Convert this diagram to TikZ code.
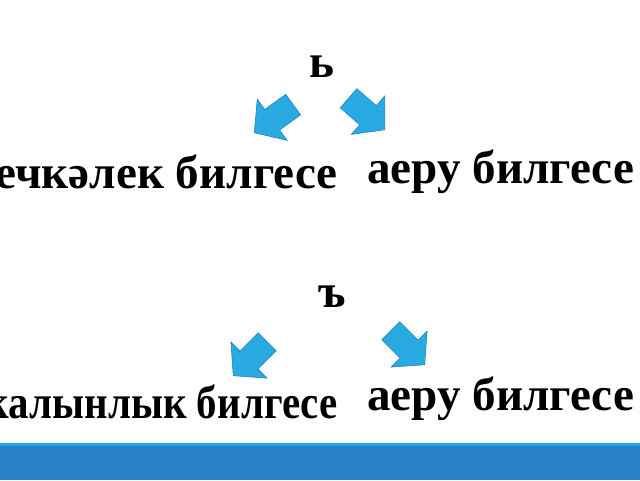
\documentclass[tikz,border=0pt]{standalone}
\usepackage{fontspec}
\setmainfont{Liberation Serif}
\usetikzlibrary{shapes.arrows,positioning}
\definecolor{arrowfill}{RGB}{41,171,226}
\definecolor{arrowline}{RGB}{31,128,186}
\definecolor{barblue}{RGB}{41,128,197}
\definecolor{barlight}{RGB}{30,168,226}
\tikzstyle{sign}=[font=\fontsize{33.5}{40}\bfseries\selectfont, inner sep=0pt]
\tikzstyle{blockarrow}=[single arrow,
                        draw=arrowline,
                        fill=arrowfill,
                        thin,
                        inner sep=0pt,
                        minimum height=1.2cm,
                        single arrow head extend=0.32cm,
                        single arrow tip angle=98,
                        anchor=tip]

\begin{document}
\begin{tikzpicture}
    \useasboundingbox (0,0) rectangle (16,12);
    \fill[barblue] (0,0) rectangle (16,0.84);
    \fill[barlight] (0,0.84) rectangle (16,0.92);

    % soft sign
    \node[sign, anchor=base] (soft) at (8.05,10.05) {ь};
    \node[sign, anchor=base east] (softname) at (8.45,7.3) {нечкәлек билгесе};
    \node[sign, anchor=base west] (softsep) at (9.175,7.425) {аеру билгесе};
    \node[blockarrow, rotate=216] (softl) at (6.35,8.675) {\rule{0pt}{0.62cm}};
    \node[blockarrow, rotate=-41] (softr) at (9.625,8.75) {\rule{0pt}{0.62cm}};

    % hard sign
    \node[sign, anchor=base] (hard) at (8.3,4.325) {ъ};
    \node[sign, anchor=base east] (hardname) at (8.45,1.55) {\scalebox{0.87}[1]{калынлык билгесе}};
    \node[sign, anchor=base west] (hardsep) at (9.175,1.75) {аеру билгесе};
    \node[blockarrow, rotate=225] (hardl) at (5.825,2.6) {\rule{0pt}{0.62cm}};
    \node[blockarrow, rotate=-45] (hardr) at (10.625,2.875) {\rule{0pt}{0.62cm}};
\end{tikzpicture}
\end{document}
